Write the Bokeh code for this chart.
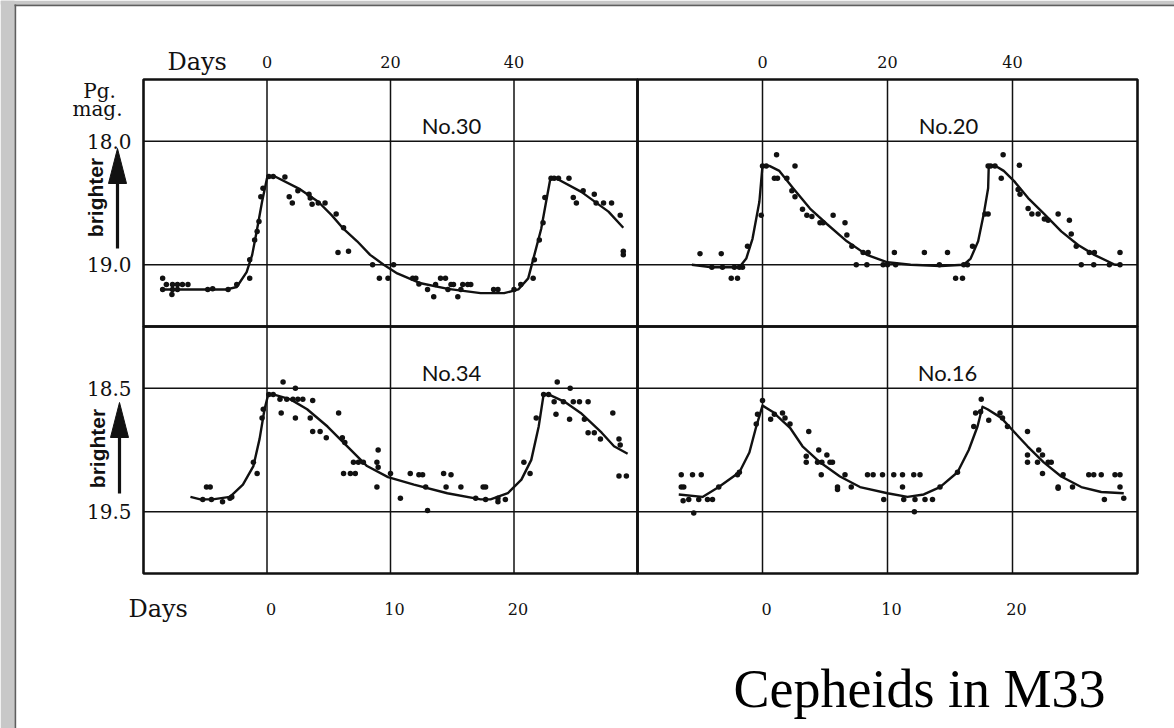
from math import pi

from bokeh.plotting import figure
from bokeh.models import Range1d
from bokeh.core.properties import value
from bokeh.embed import file_html
from bokeh.resources import INLINE

# ------------------------------------------------------------------ data

no30_obs = [(-16.9, 19.11), (-16.9, 19.20), (-16.3, 19.16), (-15.4, 19.24), (-15.3, 19.16),
            (-15.3, 19.20), (-14.5, 19.16), (-14.5, 19.20), (-13.7, 19.16), (-12.8, 19.16),
            (-9.6, 19.20), (-8.8, 19.195), (-6.3, 19.20), (-4.9, 19.16), (-2.8, 19.11),
            (-2.8, 18.96), (-2.0, 18.80), (-1.6, 18.73), (-1.3, 18.65), (-1.0, 18.45),
            (-0.65, 18.38), (0.3, 18.285), (1.0, 18.285), (2.9, 18.29), (3.6, 18.45),
            (4.1, 18.50), (5.0, 18.40), (6.8, 18.43), (7.0, 18.46), (7.3, 18.51),
            (8.3, 18.50), (9.4, 18.50), (11.2, 18.59), (12.4, 18.70), (11.5, 18.90),
            (13.2, 18.89), (17.1, 19.0), (18.2, 19.11), (19.6, 19.11), (20.5, 19.0),
            (23.6, 19.11), (24.1, 19.11), (24.6, 19.155), (26.0, 19.20), (27.0, 19.26),
            (27.3, 19.16), (28.1, 19.11), (28.9, 19.11), (29.3, 19.20), (29.8, 19.16),
            (30.2, 19.16), (30.9, 19.26), (31.4, 19.20), (31.7, 19.16), (32.5, 19.16),
            (33.0, 19.16), (36.7, 19.20), (37.4, 19.20), (40.0, 19.20), (41.1, 19.16),
            (43.1, 19.11), (43.3, 18.96), (44.1, 18.80), (44.7, 18.66), (45.0, 18.455),
            (46.0, 18.30), (46.5, 18.30), (47.2, 18.30), (48.9, 18.30), (49.6, 18.455),
            (50.1, 18.50), (51.2, 18.40), (53.0, 18.43), (53.3, 18.50), (54.5, 18.50),
            (55.8, 18.50), (57.2, 18.60), (57.7, 18.89), (57.7, 18.92)]
no30_curve = [(-16.9, 19.20), (-6.5, 19.20), (-4.9, 19.18), (-3.3, 19.06), (-2.4, 18.92),
              (-1.6, 18.71), (-0.8, 18.49), (0.0, 18.30), (0.65, 18.285), (1.3, 18.285),
              (5.4, 18.39), (8.3, 18.49), (10.5, 18.60), (12.4, 18.71), (14.6, 18.81),
              (16.7, 18.92), (18.9, 19.0), (21.1, 19.07), (24.9, 19.15), (29.3, 19.195),
              (34.6, 19.23), (38.4, 19.23), (40.7, 19.20), (42.3, 19.11), (43.3, 18.92),
              (44.4, 18.71), (45.2, 18.49), (45.9, 18.30), (46.8, 18.30), (50.9, 18.41),
              (55.3, 18.57), (57.7, 18.70)]

no20_obs = [(-10.0, 18.91), (-6.6, 18.91), (-8.1, 19.02), (-6.4, 19.02), (-5.0, 19.11),
            (-4.0, 19.11), (-4.5, 19.02), (-3.7, 19.02), (-3.2, 19.02), (-2.4, 18.85),
            (-0.2, 18.60), (0.0, 18.20), (0.6, 18.20), (2.25, 18.11), (1.9, 18.30),
            (2.4, 18.30), (5.2, 18.20), (3.9, 18.30), (4.7, 18.40), (5.2, 18.45),
            (6.4, 18.55), (7.1, 18.60), (7.9, 18.61), (9.2, 18.66), (9.7, 18.66),
            (11.3, 18.60), (13.2, 18.66), (13.5, 18.76), (14.3, 18.85), (16.1, 18.90),
            (16.9, 18.90), (15.0, 19.0), (16.7, 19.0), (19.3, 19.0), (20.0, 19.0),
            (21.3, 19.0), (21.1, 18.90), (25.9, 18.90), (29.6, 18.90), (28.3, 19.0),
            (30.9, 19.11), (32.0, 19.11), (32.2, 19.0), (32.8, 19.0), (33.6, 18.85),
            (35.6, 18.59), (36.1, 18.59), (36.1, 18.20), (36.5, 18.20), (37.2, 18.20),
            (38.5, 18.11), (38.2, 18.30), (41.1, 18.195), (40.9, 18.39), (41.2, 18.43),
            (42.5, 18.545), (43.1, 18.59), (44.1, 18.59), (45.1, 18.63), (45.7, 18.64),
            (47.3, 18.59), (49.1, 18.64), (49.4, 18.75), (50.2, 18.85), (52.3, 18.90),
            (53.1, 18.90), (51.0, 19.0), (53.0, 19.0), (55.5, 19.0), (57.2, 19.0),
            (57.2, 18.90)]
no20_curve = [(-11.3, 19.0), (-8.1, 19.02), (-3.7, 19.02), (-2.6, 18.95), (-1.6, 18.79),
              (-0.5, 18.49), (0.0, 18.20), (1.1, 18.20), (2.7, 18.24), (4.9, 18.38),
              (7.6, 18.545), (10.3, 18.67), (13.5, 18.81), (16.7, 18.92), (20.0, 18.98),
              (23.7, 19.0), (28.5, 19.01), (32.2, 19.0), (33.3, 18.95), (34.5, 18.81),
              (35.4, 18.59), (36.1, 18.38), (36.2, 18.20), (37.3, 18.20), (38.6, 18.24),
              (40.3, 18.325), (42.5, 18.46), (45.1, 18.59), (47.8, 18.73), (50.5, 18.84),
              (53.1, 18.92), (56.4, 19.0), (57.5, 19.0)]

no34_obs = [(-4.9, 19.30), (-4.6, 19.30), (-5.2, 19.40), (-4.5, 19.40), (-3.6, 19.42),
            (-3.0, 19.39), (-2.85, 19.38), (-1.1, 19.10), (-0.8, 19.19), (-0.4, 18.74),
            (-0.3, 18.67), (0.15, 18.55), (0.5, 18.55), (1.3, 18.45), (1.05, 18.59),
            (1.15, 18.70), (1.6, 18.59), (2.3, 18.50), (2.1, 18.59), (2.5, 18.59),
            (2.9, 18.59), (2.3, 18.74), (3.5, 18.74), (3.7, 18.60), (3.7, 18.85),
            (4.3, 18.85), (4.8, 18.90), (5.8, 18.70), (6.1, 18.90), (6.3, 18.94),
            (6.2, 19.19), (6.75, 19.19), (7.15, 19.19), (7.0, 19.10), (7.4, 19.10),
            (7.8, 19.10), (8.9, 19.10), (9.0, 19.0), (9.0, 19.14), (8.9, 19.30),
            (10.0, 19.19), (10.8, 19.39), (11.6, 19.19), (12.3, 19.20), (12.6, 19.20),
            (12.85, 19.30), (13.0, 19.49), (14.3, 19.19), (14.9, 19.20), (14.5, 19.30),
            (15.7, 19.30), (16.9, 19.39), (17.5, 19.30), (17.7, 19.30), (17.7, 19.40),
            (18.7, 19.42), (18.7, 19.39), (19.3, 19.40), (20.8, 19.10), (21.3, 19.19),
            (21.8, 18.74), (22.4, 18.55), (22.8, 18.55), (23.5, 18.45), (23.4, 18.71),
            (23.25, 18.61), (24.0, 18.61), (24.55, 18.50), (24.5, 18.75), (24.8, 18.61),
            (25.3, 18.61), (26.0, 18.61), (25.7, 18.75), (26.0, 18.86), (26.5, 18.86),
            (27.0, 18.91), (28.0, 18.70), (28.5, 18.91), (28.6, 18.96), (28.5, 19.21),
            (29.1, 19.21)]
no34_curve = [(-6.2, 19.38), (-5.4, 19.40), (-4.4, 19.40), (-3.0, 19.38), (-1.95, 19.28),
              (-1.1, 19.13), (-0.6, 18.91), (-0.2, 18.67), (0.1, 18.55), (0.5, 18.55),
              (1.9, 18.59), (3.25, 18.67), (4.9, 18.81), (6.5, 18.97), (8.1, 19.13),
              (9.8, 19.22), (11.9, 19.28), (14.6, 19.35), (17.3, 19.40), (18.1, 19.40),
              (19.5, 19.35), (20.6, 19.24), (21.4, 19.08), (22.0, 18.81), (22.4, 18.55),
              (22.8, 18.55), (24.1, 18.61), (25.4, 18.70), (27.1, 18.86), (28.1, 18.97),
              (29.2, 19.03)]

no16_obs = [(-6.5, 19.20), (-6.5, 19.30), (-6.3, 19.30), (-6.35, 19.41), (-5.6, 19.20),
            (-4.9, 19.20), (-5.5, 19.51), (-5.9, 19.40), (-5.1, 19.40), (-4.4, 19.40),
            (-4.0, 19.40), (-3.5, 19.30), (-2.0, 19.20), (-1.85, 19.18), (-0.5, 18.79),
            (-0.4, 18.71), (0.0, 18.60), (0.65, 18.75), (0.95, 18.71), (1.6, 18.70),
            (1.8, 18.74), (2.2, 18.79), (3.7, 18.85), (3.5, 19.05), (3.5, 19.10),
            (4.5, 19.0), (4.4, 19.10), (4.75, 19.10), (5.15, 19.04), (5.4, 19.10),
            (5.6, 19.10), (4.7, 19.20), (6.0, 19.30), (6.0, 19.32), (6.6, 19.20),
            (7.1, 19.30), (8.4, 19.20), (8.85, 19.20), (9.6, 19.20), (9.7, 19.40),
            (10.5, 19.20), (11.2, 19.20), (11.2, 19.30), (11.3, 19.40), (12.1, 19.20),
            (12.6, 19.20), (12.2, 19.40), (12.15, 19.50), (13.0, 19.40), (13.6, 19.40),
            (14.2, 19.30), (15.6, 19.18), (16.9, 18.81), (17.05, 18.70), (17.5, 18.59),
            (17.45, 18.69), (18.1, 18.76), (19.0, 18.70), (19.2, 18.74), (19.6, 18.81),
            (21.2, 18.85), (21.2, 19.04), (21.2, 19.10), (22.1, 19.0), (22.0, 19.10),
            (22.4, 19.04), (22.85, 19.10), (23.1, 19.10), (22.4, 19.19), (23.65, 19.30),
            (23.65, 19.31), (24.05, 19.20), (24.8, 19.30), (26.1, 19.20), (26.5, 19.20),
            (27.1, 19.20), (27.35, 19.40), (28.2, 19.20), (28.6, 19.20), (28.6, 19.30),
            (28.9, 19.39)]
no16_curve = [(-6.7, 19.36), (-4.8, 19.38), (-3.5, 19.30), (-1.85, 19.18), (-1.05, 19.02),
              (-0.5, 18.81), (0.0, 18.64), (0.8, 18.69), (2.2, 18.82), (3.2, 18.97),
              (4.6, 19.10), (6.2, 19.215), (7.8, 19.30), (10.0, 19.35), (11.6, 19.38),
              (12.9, 19.36), (14.2, 19.30), (15.6, 19.18), (16.5, 19.0), (17.2, 18.81),
              (17.6, 18.65), (18.0, 18.67), (19.1, 18.74), (20.1, 18.85), (21.2, 18.97),
              (22.5, 19.10), (23.9, 19.215), (25.5, 19.30), (27.1, 19.34), (28.9, 19.35)]

star_names = ["No.30", "No.20", "No.34", "No.16"]

# axis scales
top_day_lines = [-20, 0, 20, 40, 60]          # panel edges + grid
bottom_day_lines = [-10, 0, 10, 20, 30]
top_mag_lines = [17.5, 18.0, 19.0, 19.5]
bottom_mag_lines = [18.0, 18.5, 19.5, 20.0]
top_day_ticks = [0, 20, 40]
top_day_labels = ["0", "20", "40"]
bottom_day_ticks = [0, 10, 20]
bottom_day_labels = ["0", "10", "20"]
top_mag_ticks = [18.0, 19.0]
top_mag_labels = ["18.0", "19.0"]
bottom_mag_ticks = [18.5, 19.5]
bottom_mag_labels = ["18.5", "19.5"]

# ------------------------------------------------------------------ layout
W, H = 1174, 728
INK = "#111111"
SERIF = value("DejaVu Serif")

panels = {
    "tl": dict(xpx=(143, 637), ypx=(79, 326), days=top_day_lines, mags=top_mag_lines,
               obs=no30_obs, curve=no30_curve, name=star_names[0], label=(451, 125)),
    "tr": dict(xpx=(637, 1137), ypx=(79, 326), days=top_day_lines, mags=top_mag_lines,
               obs=no20_obs, curve=no20_curve, name=star_names[1], label=(948, 125)),
    "bl": dict(xpx=(143, 637), ypx=(326, 573), days=bottom_day_lines, mags=bottom_mag_lines,
               obs=no34_obs, curve=no34_curve, name=star_names[2], label=(451, 372)),
    "br": dict(xpx=(637, 1137), ypx=(326, 573), days=bottom_day_lines, mags=bottom_mag_lines,
               obs=no16_obs, curve=no16_curve, name=star_names[3], label=(947, 372)),
}


def lin(v0, v1, p0, p1, px):
    return v0 + (px - p0) * (v1 - v0) / (p1 - p0)


p = figure(width=W, height=H, x_range=Range1d(0, W), y_range=Range1d(H, 0),
           output_backend="svg", toolbar_location=None, title=None,
           x_axis_location=None, y_axis_location=None, min_border=0,
           background_fill_color="white", border_fill_color="white")
p.outline_line_color = None
p.grid.visible = False

xr, yr = {}, {}
for key, c in panels.items():
    (x0, x1), (y0, y1) = c["xpx"], c["ypx"]
    d0, d1 = c["days"][0], c["days"][-1]
    m0, m1 = c["mags"][0], c["mags"][-1]
    xr[key] = Range1d(lin(d0, d1, x0, x1, 0), lin(d0, d1, x0, x1, W))
    yr[key] = Range1d(lin(m0, m1, y0, y1, H), lin(m0, m1, y0, y1, 0))
p.extra_x_ranges = xr
p.extra_y_ranges = yr

# page frame (grey margin of the scan)
p.quad(left=[0, 0], right=[W, 14], top=[0, 0], bottom=[4, H], fill_color="#c8c8c8", line_color=None)
p.quad(left=[14, 14], right=[W, 15.7], top=[4, 4], bottom=[5.7, H], fill_color="#5e5e5e", line_color=None)

for key, c in panels.items():
    days, mags = c["days"], c["mags"]
    kw = dict(x_range_name=key, y_range_name=key)
    inner_d = days[1:-1]
    inner_m = mags[1:-1]
    p.segment(x0=inner_d, x1=inner_d, y0=[mags[0]] * len(inner_d), y1=[mags[-1]] * len(inner_d),
              line_color=INK, line_width=1.5, **kw)
    p.segment(x0=[days[0]] * len(inner_m), x1=[days[-1]] * len(inner_m), y0=inner_m, y1=inner_m,
              line_color=INK, line_width=1.5, **kw)
    p.quad(left=days[0], right=days[-1], top=mags[0], bottom=mags[-1], fill_color=None,
           line_color=INK, line_width=2.6, **kw)
    cd, cm = zip(*c["curve"])
    p.line(list(cd), list(cm), line_color=INK, line_width=2.4, line_join="round", **kw)
    od, om = zip(*c["obs"])
    p.scatter(list(od), list(om), size=5.5, fill_color=INK, line_color=None, **kw)
    lx, ly = c["label"]
    p.text(x=[lx], y=[ly], text=[c["name"]], text_font=value("Lato"), text_font_size="22px",
           text_color=INK, text_align="center", text_baseline="middle")

# day tick labels
for key in ("tl", "tr"):
    p.text(x=top_day_ticks, y=[61] * 3, text=top_day_labels, x_range_name=key,
           text_font=SERIF, text_font_size="16px", text_color=INK,
           text_align="center", text_baseline="alphabetic")
for key in ("bl", "br"):
    p.text(x=bottom_day_ticks, y=[608] * 3, text=bottom_day_labels, x_range_name=key, x_offset=4,
           text_font=SERIF, text_font_size="16px", text_color=INK,
           text_align="center", text_baseline="alphabetic")
p.text(x=[167], y=[61], text=["Days"], text_font=SERIF, text_font_size="24px",
       text_color=INK, text_align="left", text_baseline="alphabetic")
p.text(x=[128], y=[608], text=["Days"], text_font=SERIF, text_font_size="24px",
       text_color=INK, text_align="left", text_baseline="alphabetic")

# magnitude labels
p.text(x=[99, 97], y=[90, 108], text=["Pg.", "mag."], text_font=SERIF, text_font_size="20px",
       text_color=INK, text_align="center", text_baseline="alphabetic")
p.text(x=[131] * 2, y=top_mag_ticks, text=top_mag_labels, y_range_name="tl",
       text_font=SERIF, text_font_size="20px", text_color=INK,
       text_align="right", text_baseline="middle")
p.text(x=[131] * 2, y=bottom_mag_ticks, text=bottom_mag_labels, y_range_name="bl",
       text_font=SERIF, text_font_size="20px", text_color=INK,
       text_align="right", text_baseline="middle")

# "brighter" arrows
p.text(x=[95, 97], y=[197, 448], text=["brighter", "brighter"], angle=pi / 2,
       text_font=value("Liberation Sans"), text_font_style="bold", text_font_size="21px",
       text_color=INK, text_align="center", text_baseline="middle")
p.segment(x0=[117, 119], y0=[248, 493], x1=[117, 119], y1=[180, 434],
          line_color=INK, line_width=3.2)
p.patches(xs=[[108, 126, 117], [110, 128, 119]], ys=[[183, 183, 148], [437, 437, 402]],
          fill_color=INK, line_color=INK, line_width=1)

# caption
p.text(x=[733], y=[688], text=["Cepheids in M33"], text_font=value("Liberation Serif"),
       text_font_size="54px", text_color="#000000", text_align="left", text_baseline="alphabetic")

open("out.html", "w").write(file_html(p, INLINE))
